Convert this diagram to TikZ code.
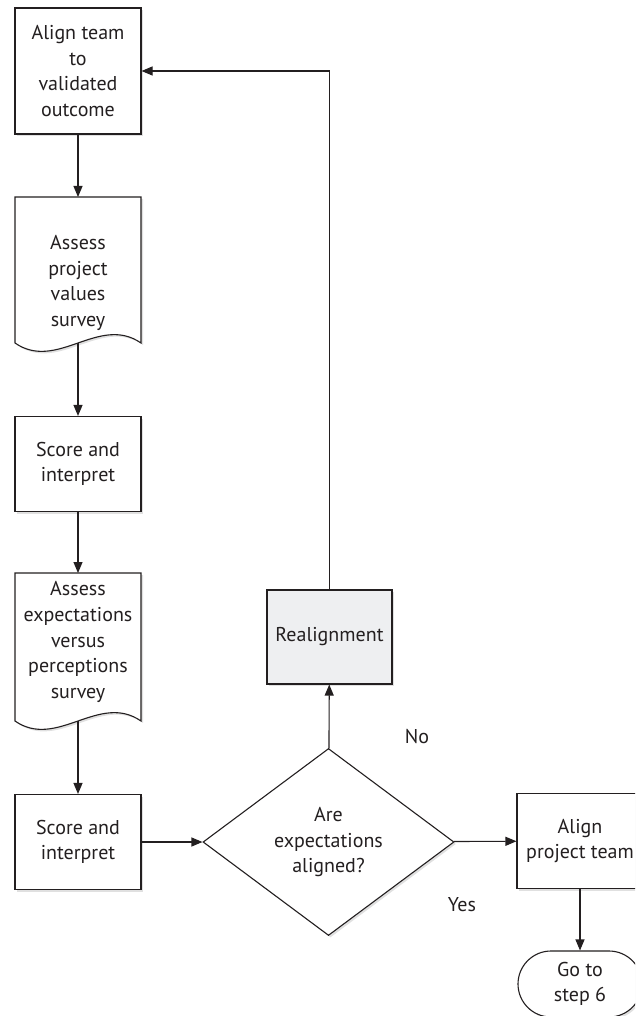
\documentclass[tikz,border=0pt]{standalone}
\usepackage{fontspec}
\setmainfont{PT Sans}
\usetikzlibrary{shapes.geometric,arrows.meta,shadows}
\definecolor{ink}{HTML}{231F20}
\definecolor{panel}{HTML}{EEEFF1}
\begin{document}
\begin{tikzpicture}[x=1pt,y=-1pt,
  font=\fontsize{20}{25.7}\selectfont, text=ink,
  shade/.style={drop shadow={shadow xshift=2pt,shadow yshift=-2pt,fill=black,opacity=0.12}},
  stepbox/.style={rectangle,draw=ink,line width=1.1pt,fill=white,shade,
    minimum width=126pt,minimum height=95pt,inner sep=0pt,align=center},
  docshape/.style={draw=ink,line width=1.1pt,fill=white,shade},
  plain/.style={inner sep=0pt,align=center},
  decision/.style={diamond,draw=ink,line width=1.1pt,fill=white,shade,
    minimum width=251pt,minimum height=187pt,inner sep=0pt,align=center},
  terminal/.style={rectangle,rounded corners=33pt,draw=ink,line width=1.1pt,fill=white,shade,
    minimum width=124pt,minimum height=66pt,inner sep=0pt,align=center},
  arrow/.style={draw=ink,line width=1.1pt,-{Triangle[length=11pt,width=9pt]}}]
\useasboundingbox (0,0) rectangle (635,1016);
\clip (0,0) rectangle (635,1016);

% left column
\node[stepbox,minimum height=126pt] (b1) at (78,71) {Align team\\to\\validated\\outcome};

\path[docshape] (15,197) -- (15,343) .. controls (57,372) and (99,314) .. (141,343) -- (141,197) -- cycle;
\coordinate (d1t) at (78,197);
\coordinate (d1b) at (78,343);
\node[plain] (d1) at (78,283) {Assess\\project\\values\\survey};

\node[stepbox] (b2) at (78,464) {Score and\\interpret};

\path[docshape] (15,573) -- (15,721) .. controls (57,750) and (99,692) .. (141,721) -- (141,573) -- cycle;
\coordinate (d2t) at (78,573);
\coordinate (d2b) at (78,721);
\node[plain] (d2) at (78,642) {Assess\\expectations\\versus\\perceptions\\survey};

\node[stepbox] (b3) at (78,842) {Score and\\interpret};

% decision and branches
\node[decision] (q) at (328.5,842) {Are\\expectations\\aligned?};
\node[stepbox,fill=panel,minimum width=125pt,minimum height=94pt] (r) at (329.5,637) {Realignment};
\node[stepbox] (a) at (580,841) {Align\\project team};
\node[terminal] (g) at (580,984) {Go to\\step 6};

\node[plain] (no) at (417,737) {No};
\node[plain] (yes) at (462,905) {Yes};

% connectors
\draw[arrow] (b1) -- (d1t);
\draw[arrow] (d1b) -- (b2);
\draw[arrow] (b2) -- (d2t);
\draw[arrow] (d2b) -- (b3);
\draw[arrow] (b3) -- (q);
\draw[arrow] (q) -- (r);
\draw[arrow] (r.north) |- (b1.east);
\draw[arrow] (q) -- (a);
\draw[arrow] (a) -- (g);
\end{tikzpicture}
\end{document}
